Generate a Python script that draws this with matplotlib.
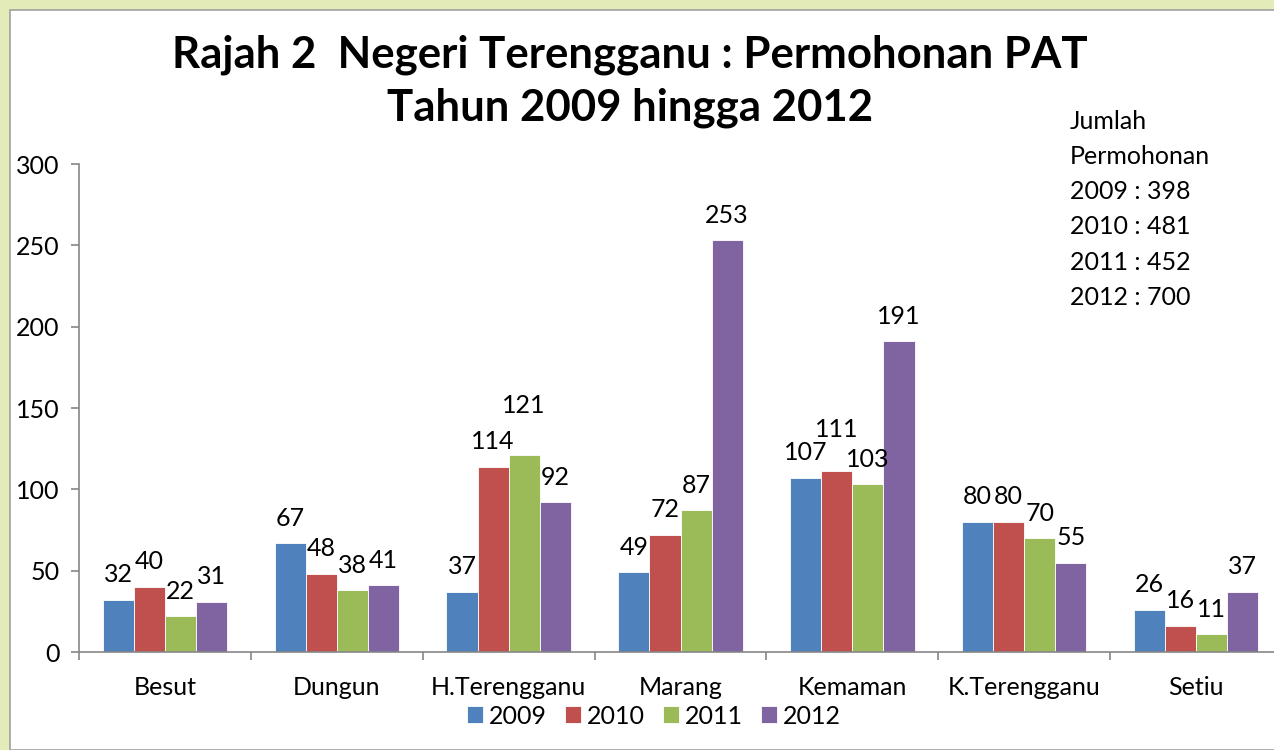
import matplotlib
matplotlib.use("Agg")
import matplotlib.pyplot as plt
from matplotlib.patches import Rectangle
import numpy as np

plt.rcParams['font.family'] = ['Lato', 'DejaVu Sans']

categories = ["Besut", "Dungun", "H.Terengganu", "Marang", "Kemaman", "K.Terengganu", "Setiu"]
years = ["2009", "2010", "2011", "2012"]
v2009 = [32, 67, 37, 49, 107, 80, 26]
v2010 = [40, 48, 114, 72, 111, 80, 16]
v2011 = [22, 38, 121, 87, 103, 70, 11]
v2012 = [31, 41, 92, 253, 191, 55, 37]
totals = [398, 481, 452, 700]
title_lines = ["Rajah 2  Negeri Terengganu : Permohonan PAT", "Tahun 2009 hingga 2012"]

series = [v2009, v2010, v2011, v2012]
colors = ["#4F81BD", "#C0504D", "#9BBB59", "#8064A2"]
# extra label lift (points) for labels moved to avoid overlap: (series index, category index)
label_lift = {(2, 2): 18, (1, 4): 12}

W, H = 1274, 750
fig = plt.figure(figsize=(W / 100, H / 100), dpi=100)
fig.patch.set_facecolor("#e3ebb9")
# white panel
fig.patches.append(Rectangle((10 / W, 0), 1.0, 1 - 10 / H, transform=fig.transFigure,
                             facecolor="white", edgecolor="#a0a0a0", linewidth=1.2, zorder=-5))

ax = fig.add_axes([79 / W, (H - 652) / H, 1203 / W, 488 / H])
ax.set_facecolor("none")
x = np.arange(len(categories))
bw = 0.181
fs = 18
for i, (vals, col, yr) in enumerate(zip(series, colors, years)):
    pos = x + (i - 1.5) * bw
    ax.bar(pos, vals, width=bw, color=col, edgecolor="#ffffff", linewidth=0.6, label=yr, zorder=2)
    for j, (p, v) in enumerate(zip(pos, vals)):
        ax.annotate(str(v), (p, v), xytext=(0, 12.6 + label_lift.get((i, j), 0)),
                    textcoords="offset points", ha="center", va="baseline", fontsize=fs)

ax.set_xlim(-0.5, len(categories) - 0.5)
ax.set_ylim(0, 300)
ax.set_yticks(range(0, 301, 50))
ax.set_xticks(x)
ax.set_xticklabels(categories, fontsize=fs)
ax.set_xticks(np.arange(-0.5, len(categories), 1.0), minor=True)
ax.tick_params(axis="x", which="major", length=0, pad=17)
ax.tick_params(axis="x", which="minor", length=6, color="#868686", width=1.2, direction="out")
ax.tick_params(axis="y", length=6, color="#868686", width=1.2, labelsize=fs, pad=8)
for s in ["top", "right"]:
    ax.spines[s].set_visible(False)
for s in ["left", "bottom"]:
    ax.spines[s].set_color("#868686")
    ax.spines[s].set_linewidth(1.2)

leg = fig.legend(loc="center", bbox_to_anchor=(654 / W, 1 - 716 / H), ncol=4, frameon=False,
                 fontsize=fs, handlelength=0.65, handleheight=0.65, handletextpad=0.25,
                 columnspacing=0.7, borderpad=0)

fig.text(630 / W, 1 - 55 / H, title_lines[0], ha="center", va="center", fontsize=31.5, fontweight="bold")
fig.text(630 / W, 1 - 108 / H, title_lines[1], ha="center", va="center", fontsize=31.5, fontweight="bold")

info = "Jumlah\nPermohonan\n" + "\n".join(f"{y} : {t}" for y, t in zip(years, totals))
fig.text(1070 / W, 1 - 110 / H, info, ha="left", va="top", fontsize=fs, linespacing=1.64)

fig.savefig("out.png", dpi=100, facecolor=fig.get_facecolor())
